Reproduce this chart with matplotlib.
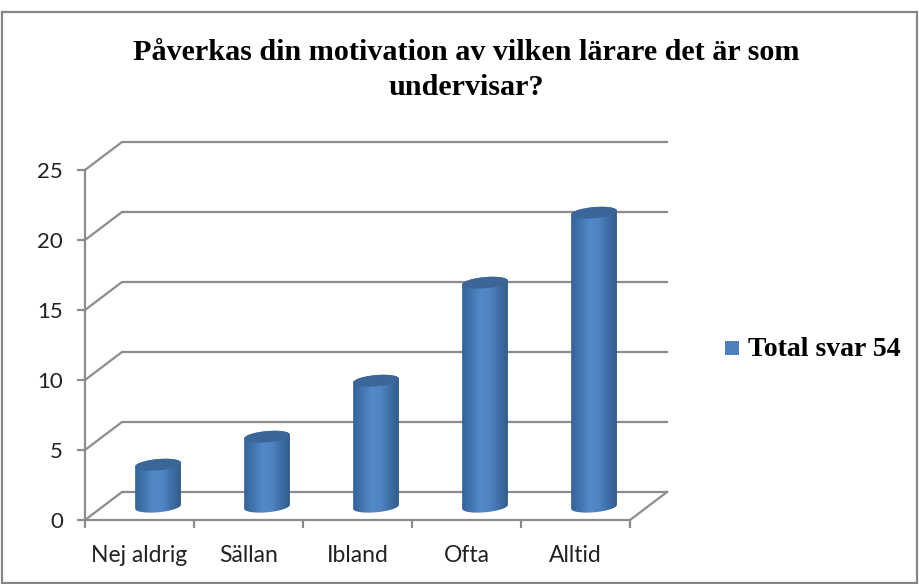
import matplotlib
matplotlib.use('Agg')
import matplotlib.pyplot as plt
from matplotlib.patches import Polygon, Rectangle
from matplotlib.colors import LinearSegmentedColormap
import numpy as np

categories = ['Nej aldrig', 'Sällan', 'Ibland', 'Ofta', 'Alltid']
values = [3, 5, 9, 16, 21]
y_ticks = [0, 5, 10, 15, 20, 25]
title_lines = ['Påverkas din motivation av vilken lärare det är som', 'undervisar?']
legend_label = 'Total svar 54'

W, H = 919, 584
GRID = '#8c8c8c'
TEXT = '#222222'

# depth of the fake 3d box, in data units
depth_x = 37 / 109
depth_y = 28 / 14
bar_half = 0.21
bar_shift = 0.17
bar_lift = 0.95
tilt = 0.14
flat = 0.4

cyl = LinearSegmentedColormap.from_list('cyl', ['#35639a', '#4275b0', '#5389c9', '#5085c4', '#406fa7', '#325c8c'])

fig = plt.figure(figsize=(W / 100, H / 100), dpi=100, facecolor='white')
fig.add_artist(Rectangle((1.5 / W, 1 - 583 / H), 915.5 / W, 571 / H, transform=fig.transFigure,
                         fill=False, edgecolor='#858585', linewidth=1.6))

ax = fig.add_axes([85 / W, 1 - 520 / H, 545 / W, 350 / H])
ax.patch.set_alpha(0)
for s in ax.spines.values():
    s.set_visible(False)

# walls and gridlines
for v in y_ticks:
    ax.plot([0, depth_x, 5 + depth_x], [v, v + depth_y, v + depth_y], color=GRID, lw=1.6, clip_on=False, zorder=1)
ax.plot([0, 0], [0, 25], color=GRID, lw=1.6, clip_on=False, zorder=1)
ax.plot([0, 5, 5 + depth_x], [0, 0, depth_y], color=GRID, lw=1.6, clip_on=False, zorder=1)

ax.set_xticks(np.arange(6))
ax.set_xticklabels([])
ax.set_yticks(y_ticks)
ax.set_yticklabels([str(v) for v in y_ticks], fontsize=16, color=TEXT, family='Lato')
ax.tick_params(axis='both', color=GRID, width=1.6, length=6, pad=10)
for i, c in enumerate(categories):
    ax.text(i + 0.5, -2.55, c, ha='center', va='center', fontsize=16.5, color=TEXT, family='Lato', clip_on=False)

# cylinders
t = np.linspace(0, 2 * np.pi, 81)
for i, v in enumerate(values):
    cx = i + 0.5 + bar_shift
    ring_x = bar_half * np.cos(t)
    ring_y = tilt * np.cos(t) + flat * np.sin(t)
    under = t >= np.pi
    over = t <= np.pi
    outline = Polygon(np.column_stack([np.r_[cx + ring_x[under], cx + ring_x[over]],
                                       np.r_[bar_lift + ring_y[under], bar_lift + v + ring_y[over]]]),
                      closed=True, transform=ax.transData, facecolor='none', edgecolor='none')
    ax.add_patch(outline)
    im = ax.imshow(np.linspace(0, 1, 64).reshape(1, -1), cmap=cyl, aspect='auto',
                   extent=[cx - bar_half, cx + bar_half, -1, 30], zorder=3)
    im.set_clip_path(outline)
    ax.fill(cx + ring_x, bar_lift + v + ring_y, color='#3a6698', zorder=4, lw=0)
ax.set_xlim(0, 5)
ax.set_ylim(0, 25)

fig.text(466 / W, 1 - 53 / H, title_lines[0], ha='center', va='center', fontsize=21.7, fontweight='bold',
         family='Liberation Serif', color='black')
fig.text(466 / W, 1 - 88 / H, title_lines[1], ha='center', va='center', fontsize=21.7, fontweight='bold',
         family='Liberation Serif', color='black')
fig.add_artist(Rectangle((725 / W, 1 - 355 / H), 14 / W, 14 / H, transform=fig.transFigure,
                         facecolor='#4f81bd', edgecolor='none'))
fig.text(748 / W, 1 - 350 / H, legend_label, ha='left', va='center', fontsize=20, fontweight='bold',
         family='Liberation Serif', color='black')

fig.savefig('out.png', dpi=100)
